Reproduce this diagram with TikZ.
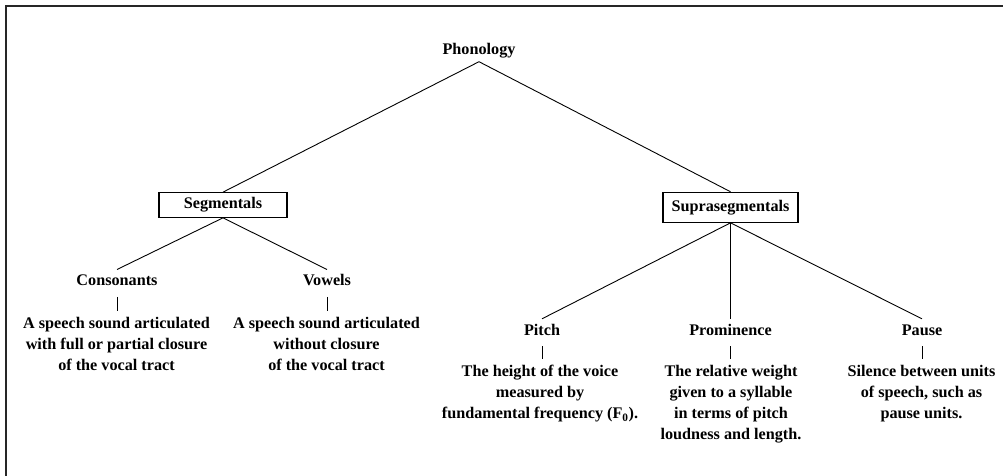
\documentclass[tikz,border=0pt]{standalone}
\usepackage{fontspec}
\setmainfont{Liberation Serif}
\begin{document}
\begin{tikzpicture}[x=1pt,y=-1pt,
  every node/.style={font=\fontsize{16.2}{21}\selectfont\bfseries},
  toplabel/.style={inner xsep=2pt,inner ysep=3pt,text height=11pt,text depth=4pt,anchor=base},
  label/.style={inner xsep=2pt,inner ysep=5pt,text height=11pt,text depth=6pt,anchor=base},
  boxnode/.style={draw,line width=1.1pt,inner sep=0pt},
  desc/.style={align=center,inner xsep=0pt,inner ysep=6pt,anchor=north},
  conn/.style={line width=0.9pt},
  frame/.style={line width=2pt,draw=black!85}]
\useasboundingbox (0,0) rectangle (1003,476);
\draw[frame] (5.5,476) -- (5.5,6.5) -- (1003,6.5);

\node[toplabel] (phon) at (479,54.5) {Phonology};
\node[boxnode,minimum width=128pt,minimum height=24.6pt] (seg) at (223,205) {Segmentals};
\node[boxnode,minimum width=135pt,minimum height=30pt] (sup) at (730.5,207.3) {Suprasegmentals};

\node[label] (cons) at (117,285.7) {Consonants};
\node[label] (vow) at (327,285.7) {Vowels};
\node[label] (pitch) at (542,335) {Pitch};
\node[label] (prom) at (730.5,335) {Prominence};
\node[label] (pause) at (922,335) {Pause};

\node[desc] (consd) at (116.5,311) {A speech sound articulated\\with full or partial closure\\of the vocal tract};
\node[desc] (vowd) at (326.5,311) {A speech sound articulated\\without closure\\of the vocal tract};
\node[desc] (pitchd) at (540,359) {The height of the voice\\measured by\\fundamental frequency (F\textsubscript{0}).};
\node[desc] (promd) at (731,359) {The relative weight\\given to a syllable\\in terms of pitch\\loudness and length.};
\node[desc] (paused) at (921.5,359) {Silence between units\\of speech, such as\\pause units.};

\draw[conn] (phon.south) -- (seg.north);
\draw[conn] (phon.south) -- (sup.north);
\draw[conn] (seg.south) -- (cons.north);
\draw[conn] (seg.south) -- (vow.north);
\draw[conn] (sup.south) -- (pitch.north);
\draw[conn] (sup.south) -- (prom.north);
\draw[conn] (sup.south) -- (pause.north);
\draw[conn] (cons.south) -- (cons.south |- consd.north);
\draw[conn] (vow.south) -- (vow.south |- vowd.north);
\draw[conn] (pitch.south) -- (pitch.south |- pitchd.north);
\draw[conn] (prom.south) -- (prom.south |- promd.north);
\draw[conn] (pause.south) -- (pause.south |- paused.north);
\end{tikzpicture}
\end{document}
